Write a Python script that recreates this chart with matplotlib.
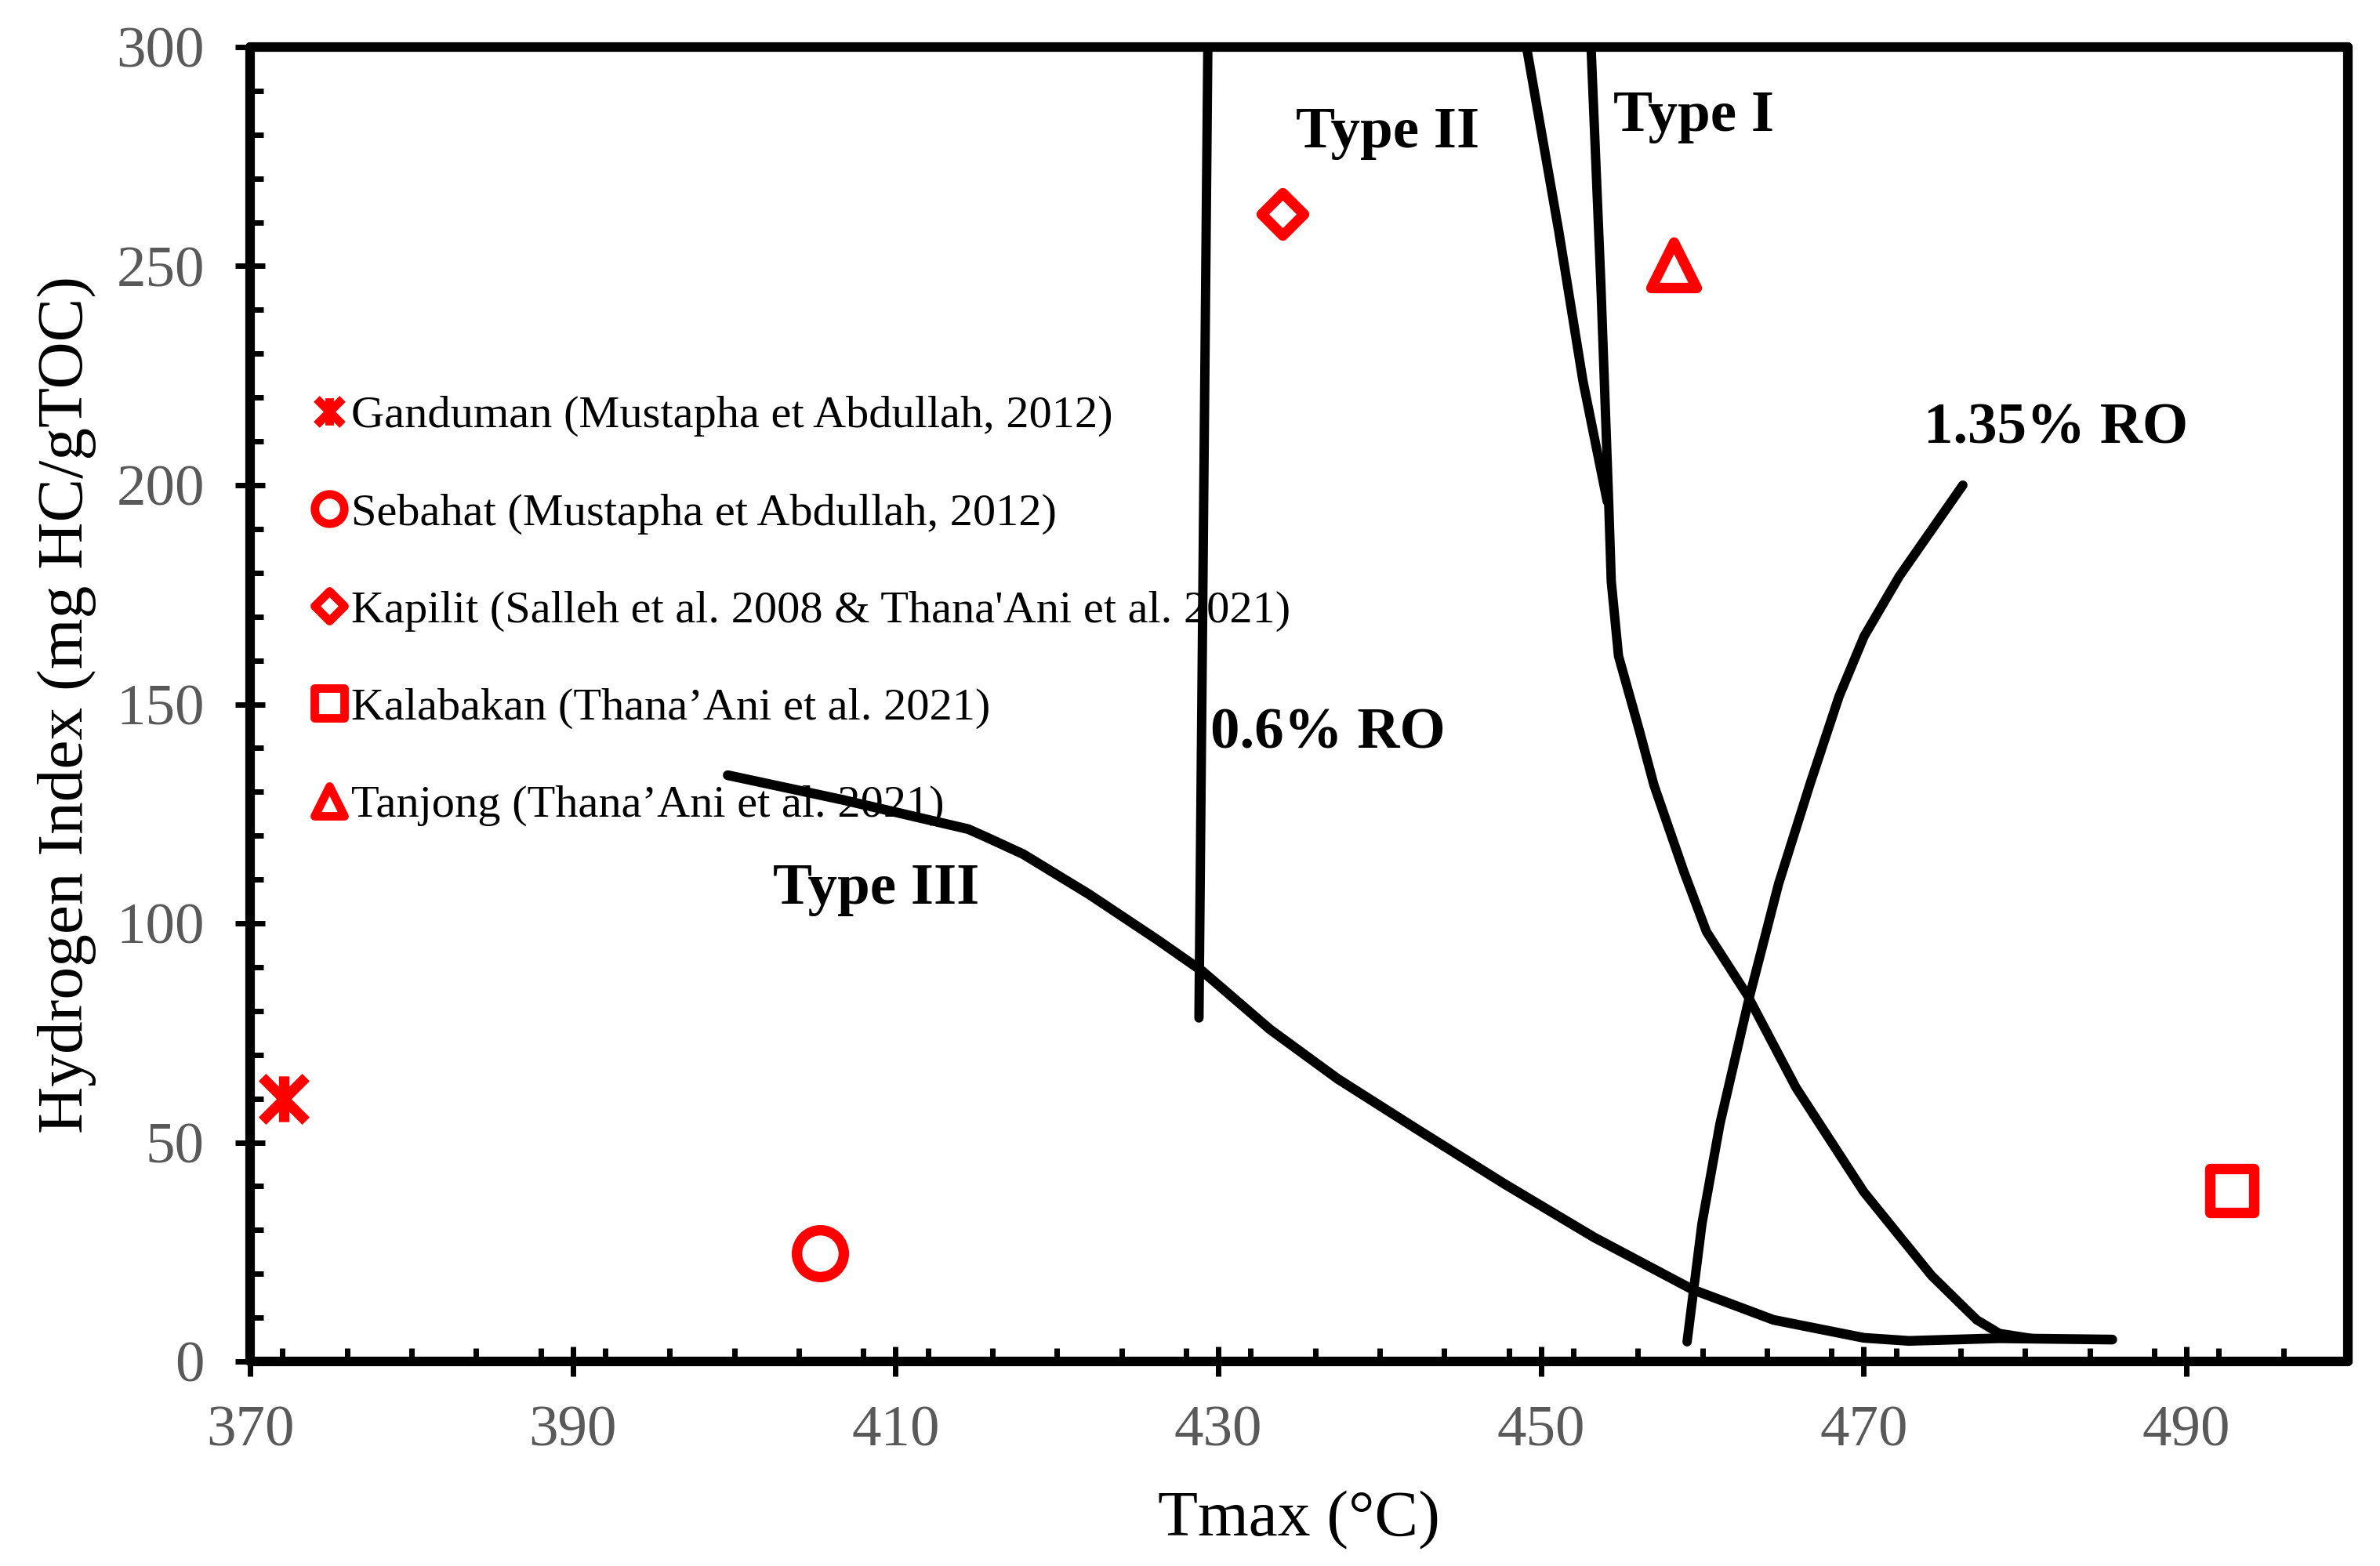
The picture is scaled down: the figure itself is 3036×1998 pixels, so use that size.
import matplotlib
matplotlib.use("Agg")
import matplotlib.pyplot as plt
from matplotlib.lines import Line2D
from matplotlib.markers import MarkerStyle
from matplotlib.path import Path
from matplotlib.ticker import MultipleLocator

plt.rcParams['font.family'] = ['Liberation Serif', 'DejaVu Serif']

# --- sample points (Tmax, HI) ---
samples = ['Ganduman (Mustapha et Abdullah, 2012)',
           'Sebahat (Mustapha et Abdullah, 2012)',
           "Kapilit (Salleh et al. 2008 & Thana'Ani et al. 2021)",
           'Kalabakan (Thana\u2019Ani et al. 2021)',
           'Tanjong (Thana\u2019Ani et al. 2021)']
tmax = [372.1, 405.3, 434.0, 492.8, 458.2]
hi = [60.0, 24.7, 261.8, 39.0, 250.3]

# --- kerogen type / maturity boundary curves ---
type1_x = [453.1, 453.7, 454.2, 454.35, 454.8, 456.1, 457.0, 458.85, 460.25, 462.8,
           465.8, 470.0, 474.2, 477.0, 478.4, 480.5]
type1_y = [300, 246.5, 195.2, 178.1, 161.0, 143.9, 131.5, 111.8, 98.1, 83.5,
           62.5, 38.7, 19.6, 9.5, 6.4, 5.2]
type2_x = [449.1, 451.1, 452.6, 454.1]
type2_y = [300, 257.9, 223.7, 196.3]
type3_x = [399.6, 406.7, 414.5, 415.6, 417.9, 422.0, 426.2, 429.0, 433.2, 437.4,
           442.1, 447.7, 453.3, 459.4, 464.4, 470.0, 472.8, 478.4, 485.4]
type3_y = [133.8, 128.2, 121.5, 119.7, 115.8, 106.6, 96.3, 89.1, 75.8, 64.5,
           53.5, 40.6, 28.3, 16.4, 9.5, 5.4, 4.7, 5.3, 5.0]
ro06_x = [429.35, 428.8]
ro06_y = [300, 78.4]
ro135_x = [459.05, 459.97, 461.09, 462.9, 464.72, 466.67, 468.47, 470.02, 472.2, 474.68, 476.14]
ro135_y = [4.5, 31.4, 54.3, 83.0, 109.0, 131.8, 151.8, 165.5, 179.2, 192.3, 200.0]

labels = ['Type I', 'Type II', 'Type III', '0.6% RO', '1.35% RO']
label_x = [454.5, 434.8, 402.4, 429.5, 473.7]
label_y = [280.8, 277.1, 104.5, 140.0, 209.5]

star = Path([(-1, -1), (1, 1), (-1, 1), (1, -1), (0, -1.05), (0, 1.05)],
            [Path.MOVETO, Path.LINETO, Path.MOVETO, Path.LINETO, Path.MOVETO, Path.LINETO])
markers = [star, 'o', 'D', 's', '^']
sizes = [21, 21.5, 14, 20.5, 21]
leg_sizes = [12.5, 13.5, 9.6, 13.5, 13.5]

fig = plt.figure(figsize=(15.18, 9.99), dpi=200)
ax = fig.add_axes([0.1051, 0.1306, 0.8814, 0.8394])

for xs, ys, lw in [(type3_x, type3_y, 4.5), (type1_x, type1_y, 4.3), (type2_x, type2_y, 4.3),
                   (ro06_x, ro06_y, 4.3), (ro135_x, ro135_y, 4.3)]:
    ax.plot(xs, ys, color='black', lw=lw, solid_capstyle='round', solid_joinstyle='round',
            zorder=2)

handles = []
for i, name in enumerate(samples):
    m = MarkerStyle(markers[i], joinstyle='round')
    ax.plot([tmax[i]], [hi[i]], linestyle='none', marker=m, ms=sizes[i],
            mfc='white' if i > 0 else 'red', mec='red', mew=4.8, zorder=3, clip_on=False)
    handles.append(Line2D([], [], linestyle='none', marker=MarkerStyle(markers[i], joinstyle='round'),
                          ms=leg_sizes[i], mfc='white' if i > 0 else 'red', mec='red',
                          mew=3.9, label=name))

for t, lx, ly in zip(labels, label_x, label_y):
    ax.text(lx, ly, t, fontsize=27, fontweight='bold', ha='left', va='baseline', zorder=4)

leg = ax.legend(handles=handles, loc='upper left', bbox_to_anchor=(0.0285, 0.735),
                frameon=False, fontsize=21, handlelength=0.85, handletextpad=0.05,
                labelspacing=1.22, borderpad=0, borderaxespad=0)
leg.set_zorder(1)

ax.set_xlim(370, 500)
ax.set_ylim(0, 300)
ax.xaxis.set_major_locator(MultipleLocator(20))
ax.xaxis.set_minor_locator(MultipleLocator(4))
ax.yaxis.set_major_locator(MultipleLocator(50))
ax.yaxis.set_minor_locator(MultipleLocator(10))
ax.set_xticks([370, 390, 410, 430, 450, 470, 490])

for s in ax.spines.values():
    s.set_linewidth(4.4)
    s.set_capstyle('round')

ax.tick_params(which='major', direction='inout', length=14, width=2.5,
               labelsize=27, labelcolor='#595959', top=False, right=False)
ax.tick_params(which='minor', direction='in', length=6, width=2.5, top=False, right=False)
ax.tick_params(axis='x', which='major', pad=13)
ax.tick_params(axis='y', which='major', pad=14)

ax.set_xlabel('Tmax (\u00b0C)', fontsize=30, labelpad=15)
ax.set_ylabel('Hydrogen Index (mg HC/gTOC)', fontsize=30, labelpad=9)

fig.savefig('out.png', dpi=200)
